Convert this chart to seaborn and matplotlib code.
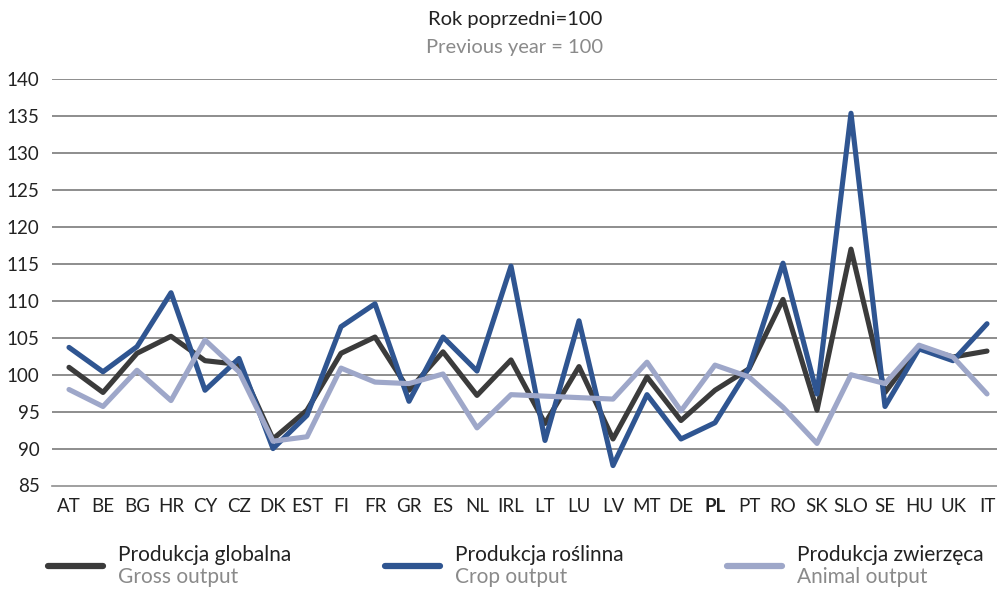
import pandas as pd
import matplotlib.pyplot as plt
from matplotlib.lines import Line2D
import seaborn as sns

# Values (previous year = 100)
countries = ["AT", "BE", "BG", "HR", "CY", "CZ", "DK", "EST", "FI", "FR", "GR", "ES", "NL", "IRL",
             "LT", "LU", "LV", "MT", "DE", "PL", "PT", "RO", "SK", "SLO", "SE", "HU", "UK", "IT"]
gross = [101.0, 97.6, 102.9, 105.2, 101.9, 101.4, 91.3, 95.2, 102.9, 105.1, 97.9, 103.1, 97.2, 102.0,
         93.4, 101.1, 91.3, 99.7, 93.8, 97.9, 100.8, 110.2, 95.2, 117.0, 97.6, 103.7, 102.4, 103.2]
crop = [103.7, 100.4, 103.8, 111.1, 97.9, 102.2, 90.0, 94.5, 106.5, 109.6, 96.4, 105.1, 100.5, 114.7,
        91.1, 107.3, 87.7, 97.3, 91.3, 93.5, 100.9, 115.1, 97.4, 135.4, 95.7, 103.5, 101.9, 106.9]
animal = [98.0, 95.7, 100.6, 96.5, 104.7, 100.4, 91.0, 91.6, 100.9, 99.0, 98.8, 100.1, 92.8, 97.3,
          97.1, 96.9, 96.7, 101.7, 95.1, 101.3, 99.7, 95.6, 90.7, 100.0, 98.8, 104.0, 102.4, 97.4]

series_pl = ["Produkcja globalna", "Produkcja roślinna", "Produkcja zwierzęca"]
series_en = ["Gross output", "Crop output", "Animal output"]
colors = ["#3b3b3b", "#2f5591", "#9ea7c9"]

df = pd.concat([
    pd.DataFrame({"country": countries, "value": vals, "series": name})
    for name, vals in zip(series_pl, [gross, crop, animal])
])

sns.set_style("white")
plt.rcParams["font.family"] = ["Lato", "DejaVu Sans"]

fig = plt.figure(figsize=(9.97, 5.89), dpi=100)
# axes run slightly past the right edge like the original
ax = fig.add_axes([52 / 997, (589 - 485.5) / 589, 952 / 997, (485.5 - 79.3) / 589])

for y in range(90, 141, 5):
    ax.axhline(y, color="#858585", lw=1.3, zorder=0)

sns.lineplot(data=df, x="country", y="value", hue="series", palette=colors,
             sort=False, legend=False, linewidth=3.7, ax=ax, zorder=3)

ax.set_ylim(85, 140)
ax.set_xlim(-0.5, len(countries) - 0.5)
ax.set_yticks(range(85, 141, 5))
ax.set_xticks(range(len(countries)))
ax.set_xticklabels(countries)
ax.set_xticks([i - 0.5 for i in range(len(countries) + 1)], minor=True)
ax.tick_params(axis="x", which="major", length=0, pad=9, labelsize=13.5, labelcolor="#222222")
ax.tick_params(axis="x", which="minor", length=6, width=1, color="#8f8f8f", direction="out")
ax.tick_params(axis="y", length=0, pad=9, labelsize=13.5, labelcolor="#222222")
for lab in ax.get_xticklabels():
    if lab.get_text() == "PL":
        lab.set_fontweight("bold")
ax.set_xlabel("")
ax.set_ylabel("")
for side in ["top", "right", "left"]:
    ax.spines[side].set_visible(False)
ax.spines["bottom"].set_color("#8f8f8f")
ax.spines["bottom"].set_linewidth(1.2)

fig.text(515 / 997, 1 - 20 / 589, "Rok poprzedni=100", ha="center", va="center",
         fontsize=14.5, color="#222222")
fig.text(515 / 997, 1 - 47 / 589, "Previous year = 100", ha="center", va="center",
         fontsize=14.5, color="#8a8a8a")

# legend: line swatch + Polish label + English label in grey
leg_x = [48, 385, 727]
for x0, col, pl, en in zip(leg_x, colors, series_pl, series_en):
    fig.add_artist(Line2D([x0 / 997, (x0 + 55) / 997], [1 - 566 / 589, 1 - 566 / 589],
                          color=col, lw=4.5, solid_capstyle="round"))
    fig.text((x0 + 70) / 997, 1 - 555 / 589, pl, ha="left", va="center", fontsize=15, color="#222222")
    fig.text((x0 + 70) / 997, 1 - 577 / 589, en, ha="left", va="center", fontsize=15, color="#8a8a8a")

fig.savefig("out.png", dpi=100)
